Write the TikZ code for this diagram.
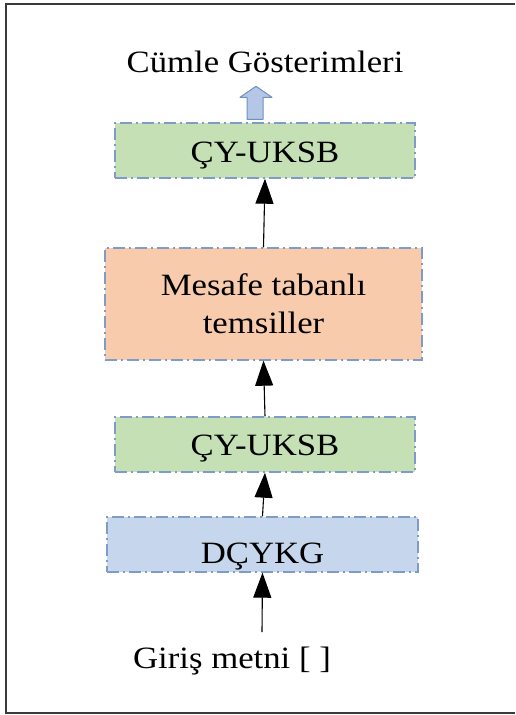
\documentclass[tikz,border=0pt]{standalone}
\usepackage{fontspec}
\setmainfont[FakeStretch=1.12]{Liberation Serif}
\usetikzlibrary{positioning, arrows.meta, calc}
\usepackage{xcolor}
\definecolor{stgreen}{HTML}{C5E0B4}
\definecolor{storange}{HTML}{F8CBAD}
\definecolor{stblue}{HTML}{C6D6EC}
\definecolor{stborder}{HTML}{7F9CC9}
\definecolor{blkfill}{HTML}{B4C7E7}
\definecolor{blkdraw}{HTML}{6F8FC0}
\definecolor{framegray}{HTML}{3A3A3A}

\begin{document}
\begin{tikzpicture}[x=1pt, y=-1pt,
    stagebox/.style={draw=stborder, line width=1.4pt,
        dash pattern=on 12pt off 4pt on 2pt off 4pt,
        inner sep=0pt, font=\fontsize{31}{38}\selectfont, align=center},
    flow/.style={-{Triangle[length=25pt, width=18pt]}, line width=1.1pt, color=black}]
      \useasboundingbox (0,0) rectangle (515,715);
      % Outer frame (open on the right)
      \draw[framegray, line width=2pt] (515,4) -- (6,4) -- (6,713) -- (515,713);
      % Stages, bottom to top
      \node[stagebox, fill=stblue, minimum width=311pt, minimum height=55pt,
            text height=38pt, text depth=0pt] (dcykg) at (262.5,544.5) {DÇYKG};
      \node[stagebox, fill=stgreen, minimum width=300pt, minimum height=55pt,
            text height=30pt, text depth=9pt] (ckb2) at (265,444.5) {ÇY-UKSB};
      \node[stagebox, fill=storange, minimum width=317pt, minimum height=112pt]
            (mesafe) at (263.5,304) {Mesafe tabanlı\\ temsiller};
      \node[stagebox, fill=stgreen, minimum width=300pt, minimum height=55pt,
            text height=30pt, text depth=6pt] (ckb1) at (265,150.5) {ÇY-UKSB};
      % Input and output texts
      \node[anchor=base, font=\fontsize{31}{38}\selectfont] (girdi) at (232,668) {Giriş metni [ ]};
      \node[anchor=base, font=\fontsize{31}{38}\selectfont] (cikti) at (265,72) {Cümle Gösterimleri};
      \coordinate (girdiuc) at (262,632);
      % Connectors
      \draw[flow] (girdiuc) -- (dcykg.south);
      \draw[flow] (dcykg.north) -- (ckb2.south);
      \draw[flow] (ckb2.north) -- (mesafe.south);
      \draw[flow] (mesafe.north) -- (ckb1.south);
      % Hollow block arrow to the output
      \draw[blkdraw, fill=blkfill, line width=1pt, line join=round]
        ($(ckb1.north)+(-2,-3)$) -- ++(0,-22) -- ++(9,0) -- ++(-16,-11)
        -- ++(-16,11) -- ++(7,0) -- ++(0,22) -- cycle;
    \end{tikzpicture}
\end{document}
